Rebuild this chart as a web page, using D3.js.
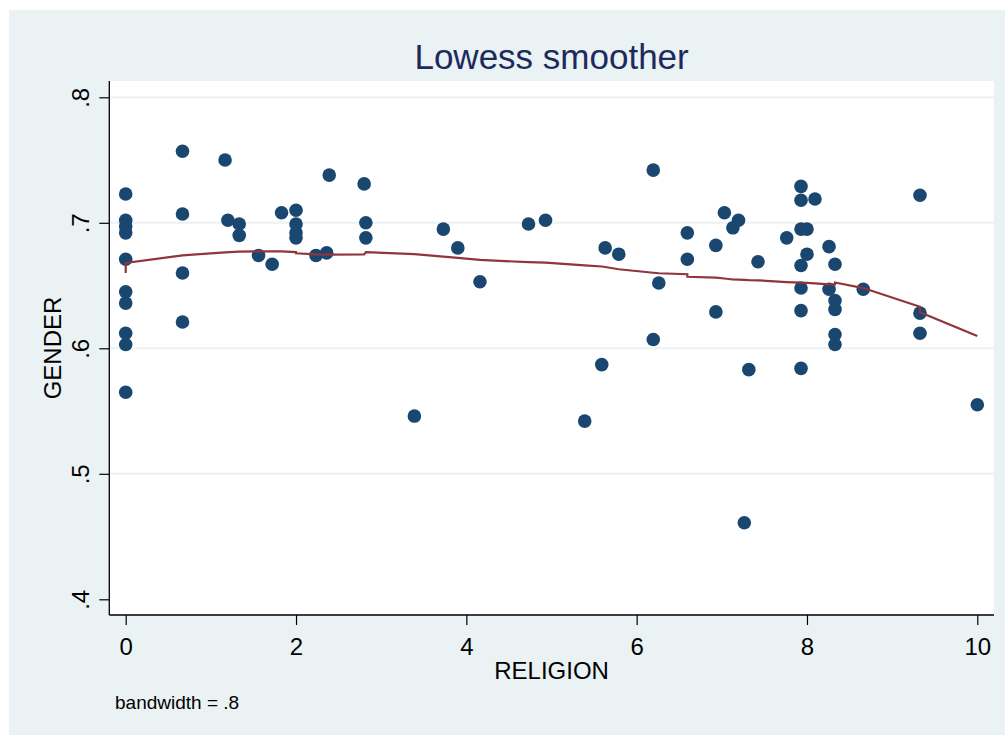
<!DOCTYPE html>
<html><head><meta charset="utf-8">
<script src="https://cdn.jsdelivr.net/npm/d3@7"></script>
<style>body{margin:0;background:#fff}svg{display:block;font-family:"Liberation Sans",Arial,sans-serif}</style>
</head><body><svg id="c" width="1005" height="735"></svg>
<script>
const religion = [0,0,0,0,0,0,0,0,0,0,
  0.667,0.667,0.667,0.667,1.167,1.2,1.333,1.333,1.56,1.72,1.83,
  2,2,2,2,2.235,2.36,2.39,2.8,2.82,2.82,3.39,3.73,3.9,4.16,4.73,4.93,
  5.39,5.59,5.63,5.79,6.195,6.195,6.26,6.595,6.595,6.93,6.93,7.03,7.13,7.196,7.264,7.317,7.425,7.762,
  7.93,7.93,7.93,7.93,7.93,7.93,7.93,8.0,8.0,8.094,8.259,8.259,
  8.329,8.329,8.329,8.329,8.329,8.661,9.327,9.327,9.327,10];
const gender = [0.723,0.702,0.697,0.692,0.671,0.645,0.636,0.612,0.603,0.565,
  0.757,0.707,0.660,0.621,0.750,0.702,0.699,0.690,0.674,0.667,0.708,
  0.710,0.699,0.692,0.688,0.674,0.676,0.738,0.731,0.700,0.688,0.546,0.695,0.680,0.653,0.699,0.702,
  0.542,0.587,0.680,0.675,0.742,0.607,0.652,0.692,0.671,0.682,0.629,0.708,0.696,0.702,0.461,0.583,0.669,0.688,
  0.729,0.718,0.695,0.666,0.648,0.630,0.584,0.695,0.675,0.719,0.681,0.647,
  0.667,0.638,0.631,0.611,0.603,0.647,0.722,0.628,0.612,0.555];
const lowessX = [0,0,0.667,1.167,1.333,1.56,1.83,2,2,2.235,2.36,2.8,2.82,3.39,3.73,3.9,4.16,4.73,4.93,
  5.39,5.59,5.63,5.79,6.195,6.26,6.595,6.595,6.93,7.03,7.13,7.196,7.264,7.317,7.425,7.762,7.93,8.0,8.094,
  8.259,8.329,8.329,8.661,9.327,9.327,10];
const lowessY = [0.660,0.668,0.674,0.6765,0.677,0.6773,0.6773,0.6767,0.6757,0.6749,0.6747,0.6749,0.6767,0.6751,0.673,0.672,0.6704,0.6686,0.6682,
  0.6661,0.6652,0.6648,0.663,0.6602,0.6598,0.659,0.657,0.6563,0.6556,0.6548,0.6547,0.6546,0.6544,0.6542,0.6528,0.6523,0.6522,0.6518,
  0.651,0.651,0.6524,0.648,0.6331,0.6287,0.6098];
const xTicks = [0,2,4,6,8,10];
const yTicks = [0.4,0.5,0.6,0.7,0.8];
const yTickLabels = [".4",".5",".6",".7",".8"];
const gridTicks = [0.5,0.6,0.7,0.8];

const svg = d3.select("#c");
const L = 109.3, R = 994, T = 81, B = 615;
const x = d3.scaleLinear().domain([0,10]).range([125.7,977.3]);
const y = d3.scaleLinear().domain([0.4,0.8]).range([599.3,97.3]);

svg.append("rect").attr("x",9).attr("y",10).attr("width",996).attr("height",725).attr("fill","#eaf2f3");
svg.append("rect").attr("x",L).attr("y",T).attr("width",R-L).attr("height",B-T).attr("fill","#fff");

svg.append("g").selectAll("line").data(gridTicks).join("line")
  .attr("x1",L).attr("x2",R).attr("y1",d=>y(d)).attr("y2",d=>y(d))
  .attr("stroke","#eaf2f3").attr("stroke-width",2);

// axes
const yAxis = d3.axisLeft(y).tickValues(yTicks).tickSize(10).tickSizeOuter(0).tickFormat((d,i)=>yTickLabels[i]);
const gy = svg.append("g").attr("transform",`translate(${L},0)`).call(yAxis);
gy.select(".domain").remove();
gy.selectAll(".tick line").attr("stroke","#000").attr("stroke-width",1.2);
gy.selectAll(".tick text").attr("font-size",24).attr("fill","#000")
  .attr("text-anchor","middle").attr("x",null).attr("dy",null)
  .attr("transform","translate(-20,0) rotate(-90)");

const xAxis = d3.axisBottom(x).tickValues(xTicks).tickSize(10).tickSizeOuter(0).tickFormat(d3.format("d"));
const gx = svg.append("g").attr("transform",`translate(0,${B})`).call(xAxis);
gx.select(".domain").remove();
gx.selectAll(".tick line").attr("stroke","#000").attr("stroke-width",1.2);
gx.selectAll(".tick text").attr("font-size",24).attr("fill","#000").attr("y",40).attr("dy",null);

svg.append("line").attr("x1",L).attr("x2",L).attr("y1",T).attr("y2",B).attr("stroke","#000").attr("stroke-width",1.3);
svg.append("line").attr("x1",L).attr("x2",R).attr("y1",B).attr("y2",B).attr("stroke","#000").attr("stroke-width",1.3);

// points
svg.append("g").selectAll("circle").data(religion.map((r,i)=>[r,gender[i]])).join("circle")
  .attr("cx",d=>x(d[0])).attr("cy",d=>y(d[1])).attr("r",6.8).attr("fill","#1a476f");

// lowess line
const line = d3.line().x(d=>x(d[0])).y(d=>y(d[1]));
svg.append("path").datum(lowessX.map((v,i)=>[v,lowessY[i]])).attr("d",line)
  .attr("fill","none").attr("stroke","#90353b").attr("stroke-width",2.2);

// texts
svg.append("text").attr("x",551.6).attr("y",69).attr("text-anchor","middle").attr("font-size",35).attr("fill","#1c2a5c").text("Lowess smoother");
svg.append("text").attr("x",551.6).attr("y",679).attr("text-anchor","middle").attr("font-size",24).attr("fill","#000").text("RELIGION");
svg.append("text").attr("transform","translate(61,348) rotate(-90)").attr("text-anchor","middle").attr("font-size",24).attr("fill","#000").text("GENDER");
svg.append("text").attr("x",115).attr("y",709).attr("font-size",19).attr("fill","#000").text("bandwidth = .8");
</script></body></html>
